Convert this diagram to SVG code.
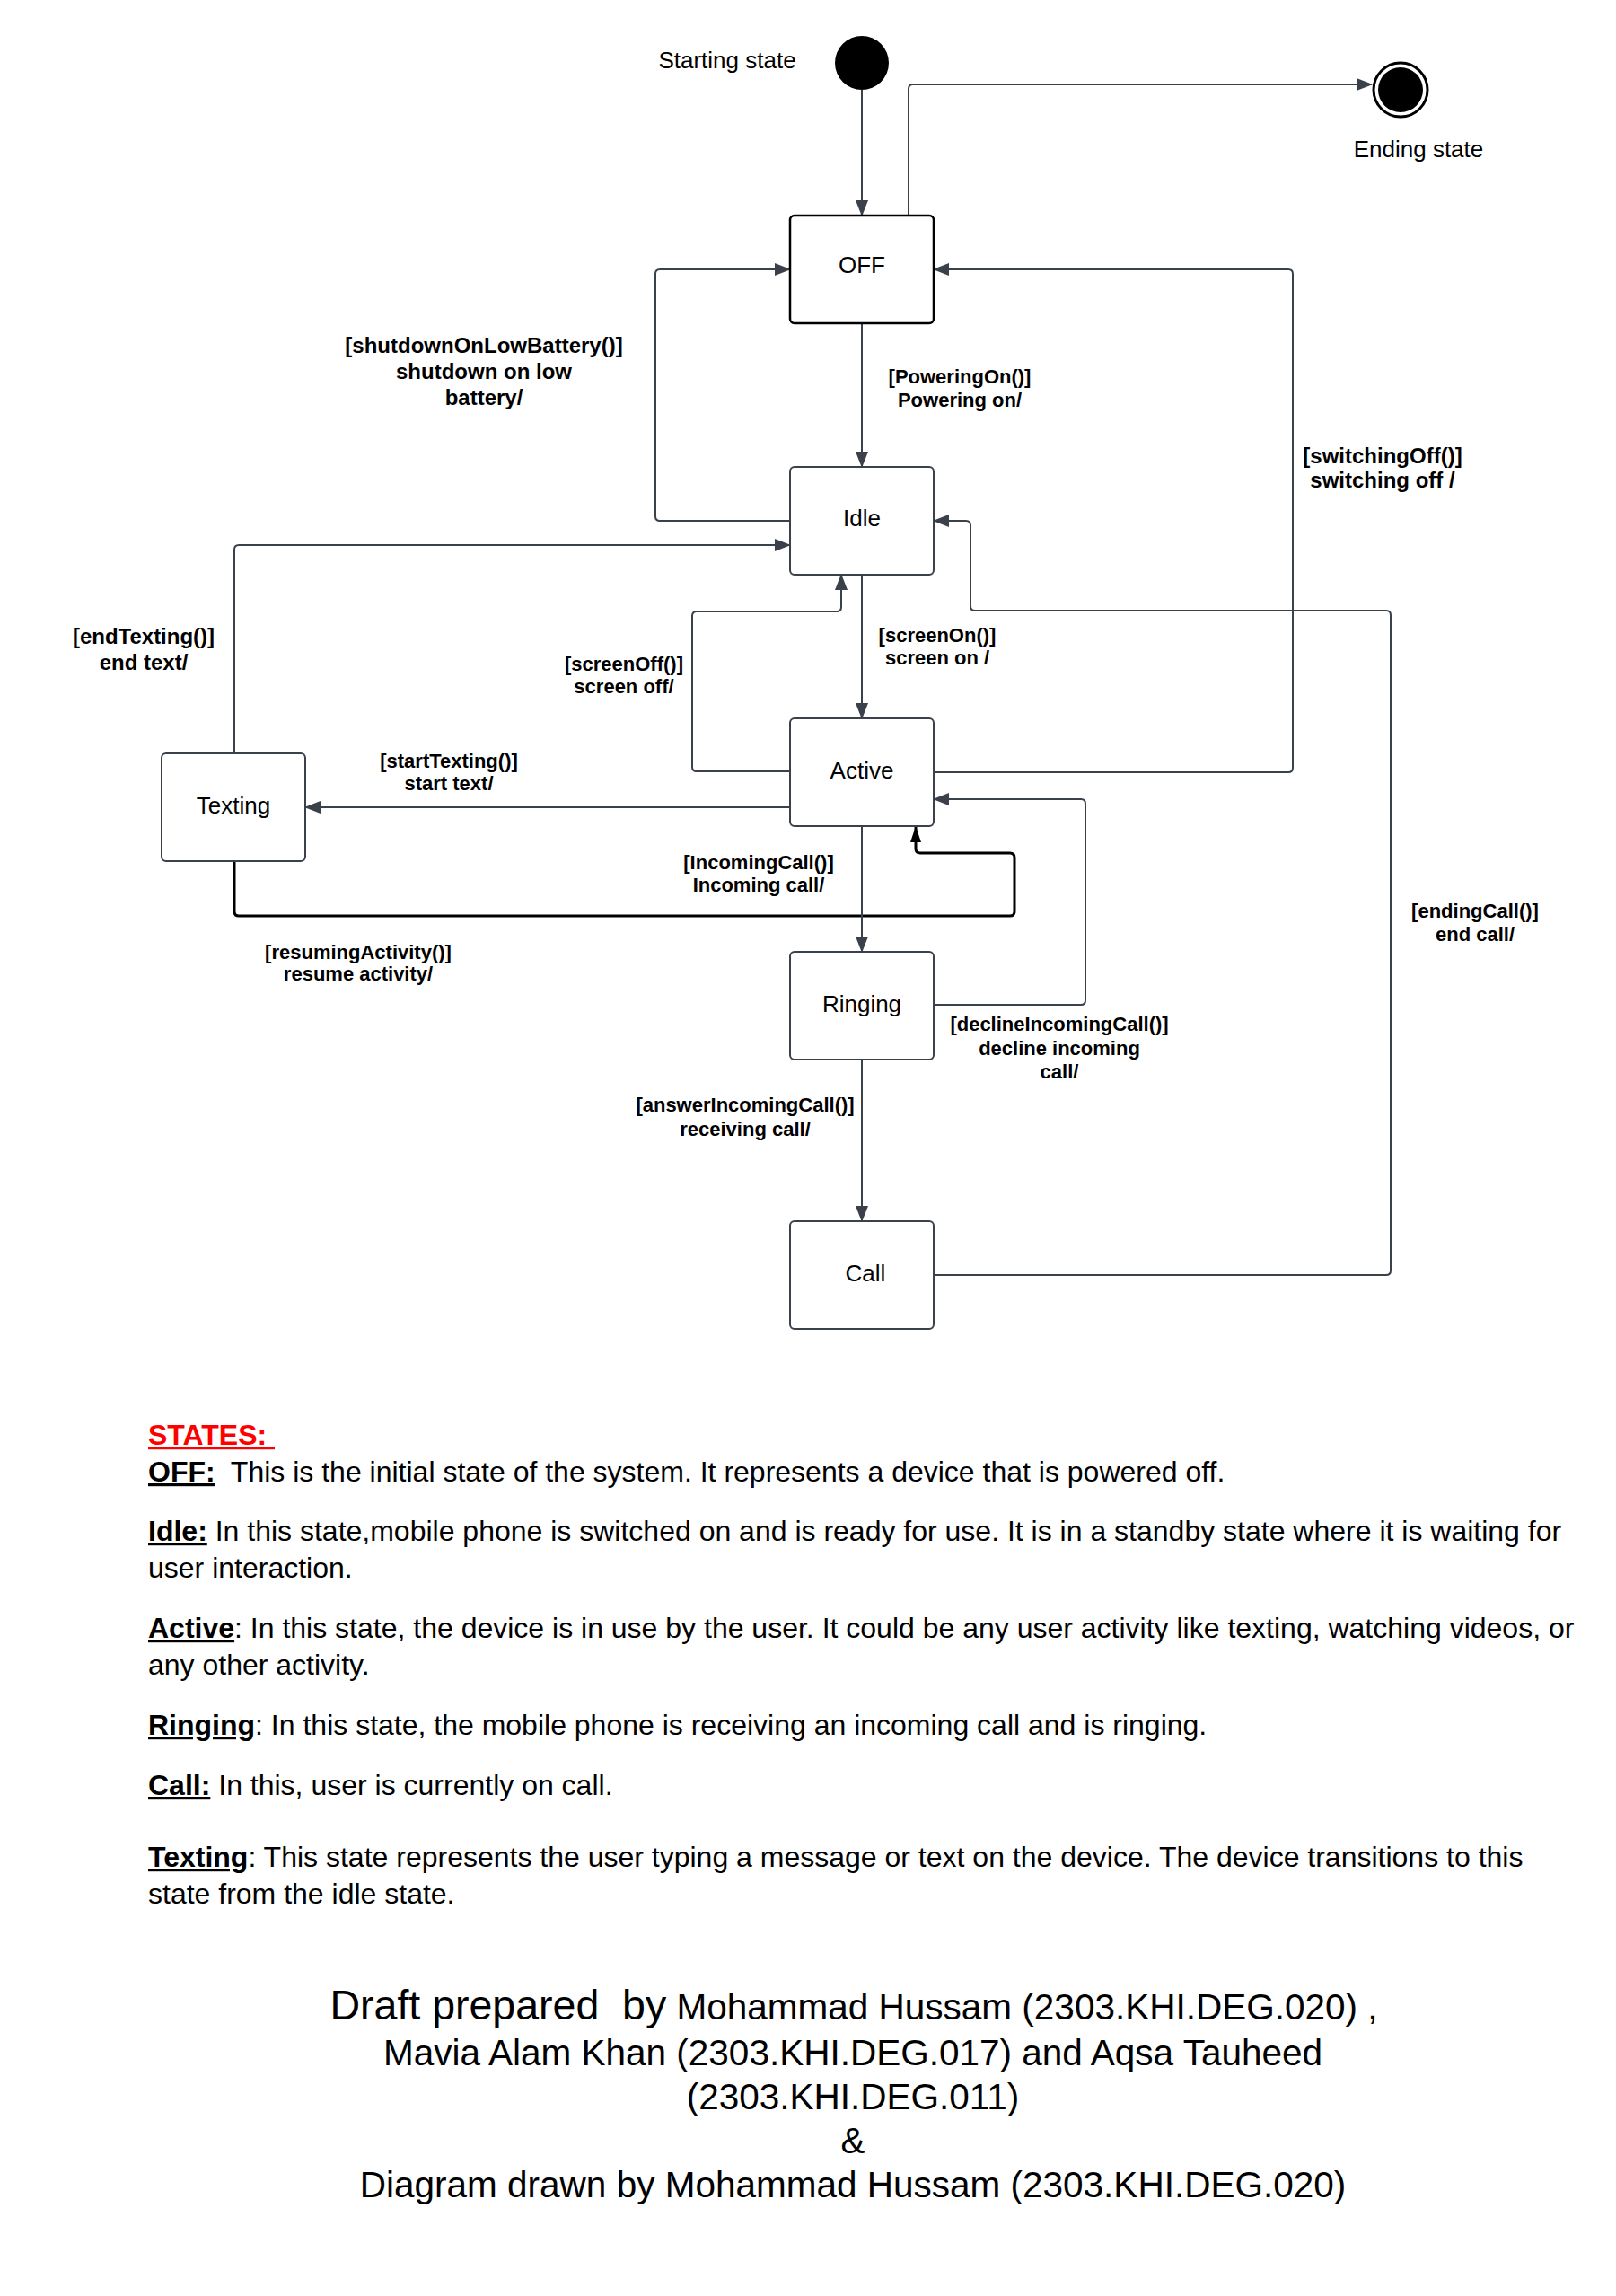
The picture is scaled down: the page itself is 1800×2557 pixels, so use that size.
<svg xmlns="http://www.w3.org/2000/svg" width="1800" height="2557" viewBox="0 0 1800 2557">
<style>
.bg{fill:#ffffff}
.node{fill:#ffffff;stroke:#3a414a;stroke-width:2}
.nlabel{font-family:"Liberation Sans",Arial,sans-serif;font-size:26px;fill:#000;text-anchor:middle}
.elabel{font-family:"Liberation Sans",Arial,sans-serif;font-size:22px;font-weight:bold;fill:#000;text-anchor:middle}
.elabel24{font-size:24px}
.conn{fill:none;stroke:#3a414a;stroke-width:2;marker-end:url(#arr)}
.conn-black{fill:none;stroke:#000;stroke-width:3;marker-end:url(#arrB)}
.desc{font-family:"Liberation Sans",Arial,sans-serif;font-size:32px;fill:#000}
.key{font-weight:bold;text-decoration:underline}
.credit{font-family:"Liberation Sans",Arial,sans-serif;font-size:40.5px;fill:#000;text-anchor:middle}
</style>
<defs>
<marker id="arr" markerUnits="userSpaceOnUse" markerWidth="18" markerHeight="14" viewBox="0 0 18 14" refX="17" refY="7" orient="auto">
<path d="M0,0 L18,7 L0,14 z" fill="#3a414a"/>
</marker>
<marker id="arrB" markerUnits="userSpaceOnUse" markerWidth="18" markerHeight="12" viewBox="0 0 18 12" refX="17" refY="6" orient="auto">
<path d="M0,0 L18,6 L0,12 z" fill="#000"/>
</marker>
</defs>
<rect class="bg" x="0" y="0" width="1800" height="2557"/>

<g id="connectors">
<path class="conn" d="M960,100 V240"/>
<path class="conn" d="M1012,240 V99 Q1012,94 1017,94 H1528"/>
<path class="conn" d="M880,580 H735 Q730,580 730,575 V305 Q730,300 735,300 H880"/>
<path class="conn" d="M960,360 V520"/>
<path class="conn" d="M1040,860 H1435 Q1440,860 1440,855 V305 Q1440,300 1435,300 H1040"/>
<path class="conn" d="M261,839 V612 Q261,607 266,607 H880"/>
<path class="conn" d="M960,640 V800"/>
<path class="conn" d="M880,859 H776 Q771,859 771,854 V686 Q771,681 776,681 H932 Q937,681 937,676 V640"/>
<path class="conn" d="M880,899 H340"/>
<path class="conn-black" d="M261,959 V1015 Q261,1020 266,1020 H1125 Q1130,1020 1130,1015 V955 Q1130,950 1125,950 H1025 Q1020,950 1020,945 V921"/>
<path class="conn" d="M960,920 V1060"/>
<path class="conn" d="M1040,1119 H1204 Q1209,1119 1209,1114 V895 Q1209,890 1204,890 H1040"/>
<path class="conn" d="M960,1180 V1360"/>
<path class="conn" d="M1040,1420 H1544 Q1549,1420 1549,1415 V685 Q1549,680 1544,680 H1086 Q1081,680 1081,675 V585 Q1081,580 1076,580 H1040"/>

<text class="elabel elabel24" x="539" y="393">[shutdownOnLowBattery()]</text>
<text class="elabel elabel24" x="539" y="422">shutdown on low</text>
<text class="elabel elabel24" x="539" y="451">battery/</text>

<text class="elabel" x="1069" y="427">[PoweringOn()]</text>
<text class="elabel" x="1069" y="453">Powering on/</text>

<text class="elabel elabel24" x="1540" y="516">[switchingOff()]</text>
<text class="elabel elabel24" x="1540" y="543">switching off /</text>

<text class="elabel elabel24" x="160" y="717">[endTexting()]</text>
<text class="elabel elabel24" x="160" y="746">end text/</text>

<text class="elabel" x="695" y="747">[screenOff()]</text>
<text class="elabel" x="695" y="772">screen off/</text>

<text class="elabel" x="1044" y="715">[screenOn()]</text>
<text class="elabel" x="1044" y="740">screen on /</text>

<text class="elabel" x="500" y="855">[startTexting()]</text>
<text class="elabel" x="500" y="880">start text/</text>

<text class="elabel" x="845" y="968">[IncomingCall()]</text>
<text class="elabel" x="845" y="993">Incoming call/</text>

<text class="elabel" x="399" y="1068">[resumingActivity()]</text>
<text class="elabel" x="399" y="1092">resume activity/</text>

<text class="elabel" x="1180" y="1148">[declineIncomingCall()]</text>
<text class="elabel" x="1180" y="1175">decline incoming</text>
<text class="elabel" x="1180" y="1201">call/</text>

<text class="elabel" x="830" y="1238">[answerIncomingCall()]</text>
<text class="elabel" x="830" y="1265">receiving call/</text>

<text class="elabel" x="1643" y="1022">[endingCall()]</text>
<text class="elabel" x="1643" y="1048">end call/</text>
</g>

<g id="start">
<circle cx="960" cy="70" r="30" fill="#000"/>
<text class="nlabel" x="810" y="76">Starting state</text>
</g>

<g id="end">
<circle cx="1560" cy="100" r="30" fill="#fff" stroke="#000" stroke-width="3"/>
<circle cx="1560" cy="100" r="25" fill="#000"/>
<text class="nlabel" x="1580" y="175">Ending state</text>
</g>

<g id="off">
<rect x="880" y="240" width="160" height="120" rx="5" fill="#fff" stroke="#000" stroke-width="2.5"/>
<text class="nlabel" x="960" y="304">OFF</text>
</g>

<g id="idle">
<rect class="node" x="880" y="520" width="160" height="120" rx="5"/>
<text class="nlabel" x="960" y="586">Idle</text>
</g>

<g id="active">
<rect class="node" x="880" y="800" width="160" height="120" rx="5"/>
<text class="nlabel" x="960" y="867">Active</text>
</g>

<g id="texting">
<rect class="node" x="180" y="839" width="160" height="120" rx="5"/>
<text class="nlabel" x="260" y="906">Texting</text>
</g>

<g id="ringing">
<rect class="node" x="880" y="1060" width="160" height="120" rx="5"/>
<text class="nlabel" x="960" y="1127">Ringing</text>
</g>

<g id="call">
<rect class="node" x="880" y="1360" width="160" height="120" rx="5"/>
<text class="nlabel" x="964" y="1427">Call</text>
</g>

<g id="description">
<text class="desc" x="165" y="1609" xml:space="preserve"><tspan fill="#ff0000" font-weight="bold" text-decoration="underline">STATES: </tspan></text>
<text class="desc" x="165" y="1650" xml:space="preserve"><tspan class="key">OFF:</tspan>  This is the initial state of the system. It represents a device that is powered off.</text>
<text class="desc" x="165" y="1716" xml:space="preserve"><tspan class="key">Idle:</tspan> In this state,mobile phone is switched on and is ready for use. It is in a standby state where it is waiting for</text>
<text class="desc" x="165" y="1757">user interaction.</text>
<text class="desc" x="165" y="1824" xml:space="preserve"><tspan class="key">Active</tspan>: In this state, the device is in use by the user. It could be any user activity like texting, watching videos, or</text>
<text class="desc" x="165" y="1865">any other activity.</text>
<text class="desc" x="165" y="1932" xml:space="preserve"><tspan class="key">Ringing</tspan>: In this state, the mobile phone is receiving an incoming call and is ringing.</text>
<text class="desc" x="165" y="1999" xml:space="preserve"><tspan class="key">Call:</tspan> In this, user is currently on call.</text>
<text class="desc" x="165" y="2079" xml:space="preserve"><tspan class="key">Texting</tspan>: This state represents the user typing a message or text on the device. The device transitions to this</text>
<text class="desc" x="165" y="2120">state from the idle state.</text>
</g>

<g id="credits">
<text class="credit" x="951" y="2249" xml:space="preserve"><tspan font-size="46.5">Draft prepared  by</tspan> Mohammad Hussam (2303.KHI.DEG.020) ,</text>
<text class="credit" x="950" y="2300">Mavia Alam Khan (2303.KHI.DEG.017) and Aqsa Tauheed</text>
<text class="credit" x="950" y="2349">(2303.KHI.DEG.011)</text>
<text class="credit" x="950" y="2398">&amp;</text>
<text class="credit" x="950" y="2447">Diagram drawn by Mohammad Hussam (2303.KHI.DEG.020)</text>
</g>
</svg>
